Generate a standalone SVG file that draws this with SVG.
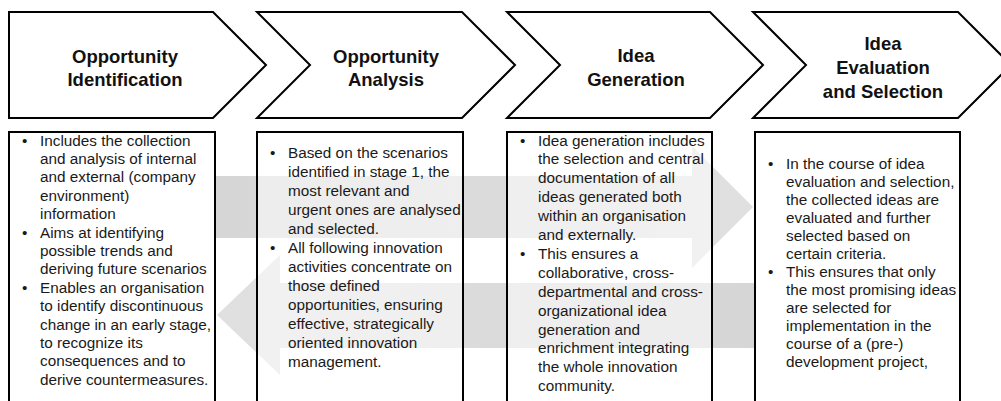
<svg xmlns="http://www.w3.org/2000/svg" width="1001" height="401" viewBox="0 0 1001 401">
<defs>
<style>
.chev{fill:#fff;stroke:#000;stroke-width:2;stroke-linejoin:miter}
.box{fill:#fff;fill-opacity:0.55;stroke:#000;stroke-width:2}
.title{font-family:"Liberation Sans",Arial,sans-serif;font-weight:bold;font-size:18.5px;fill:#111;text-anchor:middle}
.body{font-family:"Liberation Sans",Arial,sans-serif;font-size:15.3px;fill:#1a1a1a}
</style>
<linearGradient id="gR" x1="0" y1="0" x2="1" y2="0">
<stop offset="0" stop-color="#d6d6d6"/><stop offset="1" stop-color="#e0e0e0"/>
</linearGradient>
<linearGradient id="gL" x1="1" y1="0" x2="0" y2="0">
<stop offset="0" stop-color="#d6d6d6"/><stop offset="1" stop-color="#e0e0e0"/>
</linearGradient>
</defs>
<g id="connectors">
<polygon points="215,176 692,176 692,146 753,207 692,268 692,238 215,238" fill="url(#gR)"/>
<polygon points="755,283 280,283 280,255 217,315 280,375 280,348 755,348" fill="url(#gL)"/>
</g>
<g id="stage1">
<polygon class="chev" points="9,12 213,12 266,65 213,118 9,118"/>
<text class="title" x="125" y="63">Opportunity</text>
<text class="title" x="125" y="86">Identification</text>
</g>
<g id="stage2">
<polygon class="chev" points="257,12 462,12 515,65 462,118 257,118 310,65"/>
<text class="title" x="386" y="63">Opportunity</text>
<text class="title" x="386" y="86">Analysis</text>
</g>
<g id="stage3">
<polygon class="chev" points="507,12 710,12 763,65 710,118 507,118 560,65"/>
<text class="title" x="636" y="62">Idea</text>
<text class="title" x="636" y="86">Generation</text>
</g>
<g id="stage4">
<polygon class="chev" points="753,12 958,12 1011,65 958,118 753,118 806,65"/>
<text class="title" x="883" y="50">Idea</text>
<text class="title" x="883" y="74">Evaluation</text>
<text class="title" x="883" y="98">and Selection</text>
</g>
<g id="box1">
<rect class="box" x="9" y="132" width="206" height="290"/>
<text class="body">
<tspan x="22" y="145.5">•</tspan><tspan x="40" y="145.5">Includes the collection</tspan>
<tspan x="40" y="163.9">and analysis of internal</tspan>
<tspan x="40" y="182.3">and external (company</tspan>
<tspan x="40" y="200.7">environment)</tspan>
<tspan x="40" y="219.1">information</tspan>
<tspan x="22" y="237.5">•</tspan><tspan x="40" y="237.5">Aims at identifying</tspan>
<tspan x="40" y="255.9">possible trends and</tspan>
<tspan x="40" y="274.3">deriving future scenarios</tspan>
<tspan x="22" y="292.7">•</tspan><tspan x="40" y="292.7">Enables an organisation</tspan>
<tspan x="40" y="311.1">to identify discontinuous</tspan>
<tspan x="40" y="329.5">change in an early stage,</tspan>
<tspan x="40" y="347.9">to recognize its</tspan>
<tspan x="40" y="366.3">consequences and to</tspan>
<tspan x="40" y="384.7">derive countermeasures.</tspan>
</text>
</g>
<g id="box2">
<rect class="box" x="257" y="132" width="206" height="290"/>
<text class="body">
<tspan x="270" y="158">•</tspan><tspan x="288" y="158">Based on the scenarios</tspan>
<tspan x="288" y="177">identified in stage 1, the</tspan>
<tspan x="288" y="196">most relevant and</tspan>
<tspan x="288" y="215">urgent ones are analysed</tspan>
<tspan x="288" y="234">and selected.</tspan>
<tspan x="270" y="253">•</tspan><tspan x="288" y="253">All following innovation</tspan>
<tspan x="288" y="272">activities concentrate on</tspan>
<tspan x="288" y="291">those defined</tspan>
<tspan x="288" y="310">opportunities, ensuring</tspan>
<tspan x="288" y="329">effective, strategically</tspan>
<tspan x="288" y="348">oriented innovation</tspan>
<tspan x="288" y="367">management.</tspan>
</text>
</g>
<g id="box3">
<rect class="box" x="507" y="132" width="205" height="290"/>
<text class="body">
<tspan x="520" y="145.5">•</tspan><tspan x="538" y="145.5">Idea generation includes</tspan>
<tspan x="538" y="164.4">the selection and central</tspan>
<tspan x="538" y="183.3">documentation of all</tspan>
<tspan x="538" y="202.2">ideas generated both</tspan>
<tspan x="538" y="221.1">within an organisation</tspan>
<tspan x="538" y="240">and externally.</tspan>
<tspan x="520" y="258.9">•</tspan><tspan x="538" y="258.9">This ensures a</tspan>
<tspan x="538" y="277.8">collaborative, cross-</tspan>
<tspan x="538" y="296.7">departmental and cross-</tspan>
<tspan x="538" y="315.6">organizational idea</tspan>
<tspan x="538" y="334.5">generation and</tspan>
<tspan x="538" y="353.4">enrichment integrating</tspan>
<tspan x="538" y="372.3">the whole innovation</tspan>
<tspan x="538" y="391.2">community.</tspan>
</text>
</g>
<g id="box4">
<rect class="box" x="755" y="132" width="205" height="290"/>
<text class="body">
<tspan x="768" y="169">•</tspan><tspan x="786" y="169">In the course of idea</tspan>
<tspan x="786" y="187">evaluation and selection,</tspan>
<tspan x="786" y="205">the collected ideas are</tspan>
<tspan x="786" y="223">evaluated and further</tspan>
<tspan x="786" y="241">selected based on</tspan>
<tspan x="786" y="259">certain criteria.</tspan>
<tspan x="768" y="277">•</tspan><tspan x="786" y="277">This ensures that only</tspan>
<tspan x="786" y="295">the most promising ideas</tspan>
<tspan x="786" y="313">are selected for</tspan>
<tspan x="786" y="331">implementation in the</tspan>
<tspan x="786" y="349">course of a (pre-)</tspan>
<tspan x="786" y="367">development project,</tspan>
</text>
</g>
</svg>
